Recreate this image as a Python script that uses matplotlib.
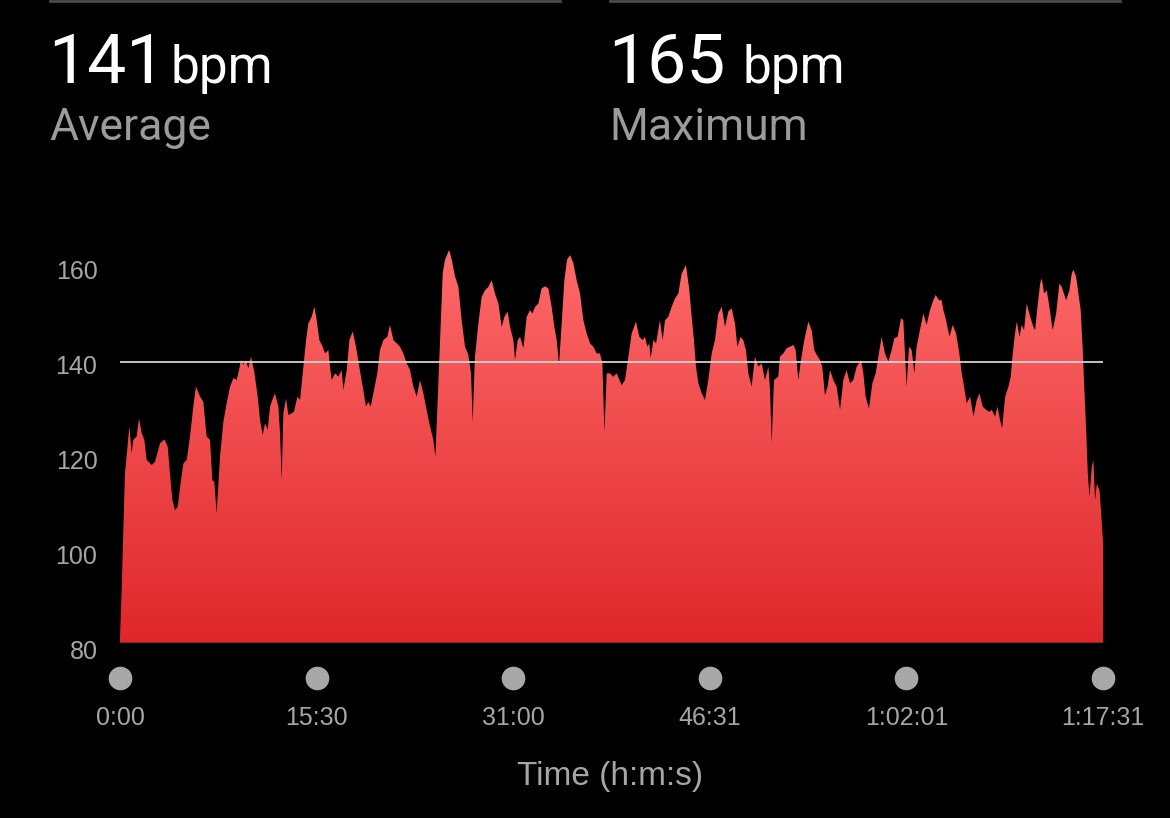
import matplotlib
matplotlib.use("Agg")
import matplotlib.pyplot as plt
import numpy as np
from matplotlib.colors import LinearSegmentedColormap
from matplotlib.lines import Line2D
import matplotlib.transforms as mtransforms

# heart rate over the workout, time in minutes, bpm
t_min = [
    0.00, 0.13, 0.39, 0.74, 0.92, 1.05, 1.31, 1.50, 1.71, 1.92, 2.10, 2.50, 2.76, 3.16, 3.50,
    3.76, 3.94, 4.13, 4.34, 4.55, 4.81, 5.00, 5.26, 5.52, 5.78, 5.99, 6.31, 6.57, 6.83, 7.10,
    7.28, 7.44, 7.62, 7.89, 8.15, 8.41, 8.68, 8.94, 9.20, 9.39, 9.54, 9.73, 9.91, 10.12, 10.33,
    10.59, 10.86, 11.04, 11.25, 11.44, 11.65, 11.83, 12.01, 12.22, 12.49, 12.62, 12.75, 12.88,
    13.09, 13.28, 13.54, 13.72, 13.99, 14.20, 14.46, 14.67, 14.85, 15.11, 15.33, 15.51, 15.72,
    15.98, 16.17, 16.43, 16.56, 16.69, 16.96, 17.22, 17.48, 17.61, 17.88, 18.09, 18.35, 18.61,
    18.87, 19.14, 19.40, 19.58, 19.77, 20.03, 20.29, 20.50, 20.77, 21.08, 21.29, 21.56, 21.82,
    22.08, 22.34, 22.61, 22.87, 23.13, 23.40, 23.66, 23.92, 24.18, 24.45, 24.71, 24.87, 25.03,
    25.24, 25.45, 25.63, 25.95, 26.16, 26.42, 26.68, 26.94, 27.21, 27.47, 27.68, 27.81, 27.99,
    28.26, 28.52, 28.78, 29.05, 29.31, 29.57, 29.84, 30.10, 30.31, 30.57, 30.76, 31.02, 31.15,
    31.36, 31.55, 31.81, 32.07, 32.33, 32.52, 32.73, 32.99, 33.25, 33.52, 33.78, 34.04, 34.25,
    34.44, 34.62, 34.83, 35.04, 35.25, 35.49, 35.75, 36.01, 36.28, 36.54, 36.80, 37.07, 37.33,
    37.59, 37.85, 38.04, 38.20, 38.38, 38.64, 38.90, 39.17, 39.56, 39.82, 40.09, 40.35, 40.69,
    40.95, 41.22, 41.40, 41.58, 41.74, 41.85, 42.06, 42.27, 42.58, 42.79, 42.98, 43.24, 43.50,
    43.77, 44.03, 44.29, 44.63, 44.90, 45.08, 45.26, 45.42, 45.61, 45.87, 46.13, 46.39, 46.66,
    46.92, 47.18, 47.45, 47.71, 47.97, 48.23, 48.50, 48.68, 48.94, 49.15, 49.36, 49.55, 49.81,
    50.07, 50.34, 50.60, 50.86, 51.13, 51.26, 51.39, 51.57, 51.91, 52.04, 52.31, 52.57, 52.83,
    53.10, 53.28, 53.49, 53.70, 53.96, 54.28, 54.54, 54.75, 54.94, 55.20, 55.38, 55.59, 55.80,
    55.99, 56.25, 56.51, 56.78, 57.04, 57.30, 57.56, 57.83, 58.09, 58.43, 58.62, 58.80, 59.06,
    59.33, 59.59, 59.80, 60.06, 60.32, 60.59, 60.85, 61.06, 61.32, 61.59, 61.77, 62.03, 62.22,
    62.43, 62.64, 62.82, 63.08, 63.35, 63.61, 63.87, 64.14, 64.32, 64.58, 64.79, 64.93, 65.14,
    65.41, 65.67, 65.93, 66.19, 66.38, 66.56, 66.77, 67.04, 67.30, 67.56, 67.77, 68.03, 68.30,
    68.56, 68.74, 69.01, 69.19, 69.40, 69.56, 69.80, 70.06, 70.24, 70.40, 70.58, 70.72, 70.93,
    71.11, 71.29, 71.50, 71.77, 72.03, 72.16, 72.35, 72.56, 72.69, 72.87, 73.08, 73.29, 73.55,
    73.82, 74.08, 74.26, 74.61, 74.87, 75.05, 75.18, 75.40, 75.58, 75.76, 75.92, 76.05, 76.18,
    76.32, 76.45, 76.63, 76.76, 76.89, 77.03, 77.24, 77.34, 77.52,
]
bpm = [
    83.0, 93.0, 117.5, 127.4, 121.8, 124.6, 125.3, 129.1, 126.0, 124.6, 120.4, 119.3, 120.0, 123.9, 124.7,
    123.2, 117.5, 111.9, 109.8, 110.5, 116.1, 119.6, 120.4, 125.3, 131.6, 135.8, 133.7, 132.6, 125.3, 124.6,
    116.1, 115.8, 109.1, 121.1, 128.4, 132.3, 135.8, 137.6, 137.2, 139.3, 141.4, 140.4, 141.3, 139.7, 142.1,
    138.9, 133.7, 128.8, 125.6, 128.1, 126.7, 131.6, 133.0, 134.4, 131.6, 126.0, 116.1, 130.2,
    133.3, 129.8, 130.2, 130.5, 133.7, 133.0, 140.0, 145.6, 149.1, 150.5, 152.6, 149.8, 145.6,
    144.2, 142.8, 143.5, 140.0, 137.2, 138.6, 137.9, 139.3, 135.1, 139.3, 145.6, 147.4, 144.2,
    140.0, 135.8, 131.6, 132.6, 131.6, 135.1, 138.6, 143.5, 145.6, 146.3, 148.8, 145.6, 144.9,
    144.2, 142.8, 140.7, 139.3, 135.8, 133.7, 137.2, 134.4, 130.9, 127.4, 124.6, 121.1, 131.6,
    145.6, 159.7, 162.5, 164.6, 162.5, 159.0, 156.9, 149.8, 144.2, 142.5, 138.6, 128.4, 142.1,
    149.1, 154.7, 156.1, 156.8, 158.2, 155.4, 153.3, 148.4, 150.5, 151.6, 148.4, 145.6, 141.4,
    145.6, 146.3, 143.9, 150.5, 151.9, 151.2, 152.6, 153.3, 156.5, 156.9, 156.5, 152.6, 148.4,
    145.6, 140.4, 149.1, 158.2, 162.5, 163.5, 161.8, 158.2, 155.4, 149.8, 147.0, 144.9, 144.2,
    142.8, 142.8, 140.7, 126.3, 138.6, 138.6, 137.9, 138.6, 136.1, 137.2, 142.1, 147.0, 149.5,
    146.3, 145.6, 146.3, 144.2, 144.9, 141.8, 145.6, 144.9, 149.8, 145.6, 149.8, 150.5, 152.6,
    154.4, 155.4, 159.6, 161.4, 156.1, 150.5, 145.6, 140.0, 136.5, 134.4, 133.0, 137.2, 142.8,
    145.6, 151.2, 152.6, 148.4, 151.6, 152.3, 149.1, 144.2, 146.3, 145.6, 143.5, 138.6, 135.8,
    142.1, 140.0, 140.7, 137.2, 140.0, 135.1, 123.9, 137.2, 137.9, 142.1, 142.8, 143.9, 144.2,
    144.6, 143.5, 137.2, 141.4, 145.6, 149.5, 147.7, 143.5, 142.5, 141.4, 140.0, 134.0, 135.8,
    139.3, 137.2, 135.8, 130.9, 137.2, 139.3, 136.5, 137.2, 140.0, 141.4, 138.6, 133.7, 131.2,
    136.5, 138.6, 142.1, 146.3, 142.8, 141.1, 143.5, 146.0, 146.3, 150.2, 149.8, 135.8, 144.2,
    143.5, 138.6, 144.2, 147.7, 151.2, 148.8, 151.9, 154.0, 155.1, 154.0, 154.0, 151.9, 149.8,
    146.3, 148.8, 147.0, 142.8, 138.6, 135.8, 132.3, 133.7, 129.5, 133.0, 134.4, 131.6, 130.9,
    130.5, 130.9, 129.5, 131.6, 128.8, 127.0, 133.7, 135.8, 137.9, 142.8, 147.0, 149.5, 146.3,
    148.8, 147.7, 153.3, 150.5, 148.4, 147.7, 152.6, 157.5, 158.6, 155.4, 156.1, 152.6, 147.7,
    151.2, 157.5, 156.8, 154.0, 156.1, 159.6, 160.4, 158.9, 155.4, 151.9, 143.5, 135.1, 127.4,
    117.5, 112.6, 118.9, 120.4, 111.9, 115.4, 114.0, 110.5, 103.0,
]

avg_bpm = 141
max_bpm = 165
y_ticks = [80, 100, 120, 140, 160]
x_ticks = [0, 15.5, 31.0, 46.517, 62.017, 77.517]
x_labels = ["0:00", "15:30", "31:00", "46:31", "1:02:01", "1:17:31"]

W, H = 1170, 818
plt.rcParams['font.family'] = ['Liberation Sans', 'DejaVu Sans']

fig = plt.figure(figsize=(W / 100, H / 100), dpi=100, facecolor='black')
ax = fig.add_axes([120 / W, 175.3 / H, 983 / W, 399.5 / H])
ax.set_facecolor('black')

ylo, yhi = 81.9, 166.0
xmax = x_ticks[-1]

# area with vertical red gradient
poly = ax.fill_between(t_min, bpm, ylo, color='none', lw=0)
cmap = LinearSegmentedColormap.from_list('hr', ['#DF272B', '#FF6B6B'])
grad = np.linspace(0, 1, 256).reshape(-1, 1)
img = ax.imshow(grad, extent=[0, xmax, ylo, yhi], aspect='auto', origin='lower',
                cmap=cmap, interpolation='bicubic')
img.set_clip_path(poly.get_paths()[0], transform=ax.transData)

ax.axhline(avg_bpm, color='#D8D8D8', lw=1.4, alpha=0.9)

ax.set_xlim(0, xmax)
ax.set_ylim(ylo, yhi)
ax.axis('off')

ytr = mtransforms.blended_transform_factory(ax.transAxes, ax.transData)
for v in y_ticks:
    ax.text(-0.023, v, str(v), transform=ytr, ha='right', va='center',
            color='#A6A6A6', fontsize=18, clip_on=False)

xtr = mtransforms.blended_transform_factory(ax.transData, ax.transAxes)
ax.plot(x_ticks, [-0.088] * len(x_ticks), 'o', ms=16, color='#A8A8A8',
        transform=xtr, clip_on=False)
for xv, lab in zip(x_ticks, x_labels):
    ax.text(xv, -0.189, lab, transform=xtr, ha='center', va='center',
            color='#A6A6A6', fontsize=18, clip_on=False)
ax.text(0.4985, -0.334, "Time (h:m:s)", transform=ax.transAxes, ha='center',
        va='center', color='#A6A6A6', fontsize=24)

# header
for x0, x1 in [(50, 560), (610, 1120)]:
    fig.add_artist(Line2D([x0 / W, x1 / W], [1 - 1 / H] * 2, color='#4A4A4A', lw=2))

hdr = ['Roboto', 'DejaVu Sans']
fig.text(48 / W, 1 - 82.7 / H, str(avg_bpm), color='white', fontsize=50,
         family=hdr, va='baseline')
fig.text(171 / W, 1 - 82.7 / H, "bpm", color='white', fontsize=37,
         family=hdr, va='baseline')
fig.text(49 / W, 1 - 140 / H, "Average", color='#9B9B9B', fontsize=32,
         family=hdr, va='baseline')
fig.text(608 / W, 1 - 82.7 / H, str(max_bpm), color='white', fontsize=50,
         family=hdr, va='baseline')
fig.text(742 / W, 1 - 82.7 / H, "bpm", color='white', fontsize=37,
         family=hdr, va='baseline')
fig.text(609 / W, 1 - 140 / H, "Maximum", color='#9B9B9B', fontsize=32,
         family=hdr, va='baseline')

fig.savefig('out.png', dpi=100, facecolor='black')
